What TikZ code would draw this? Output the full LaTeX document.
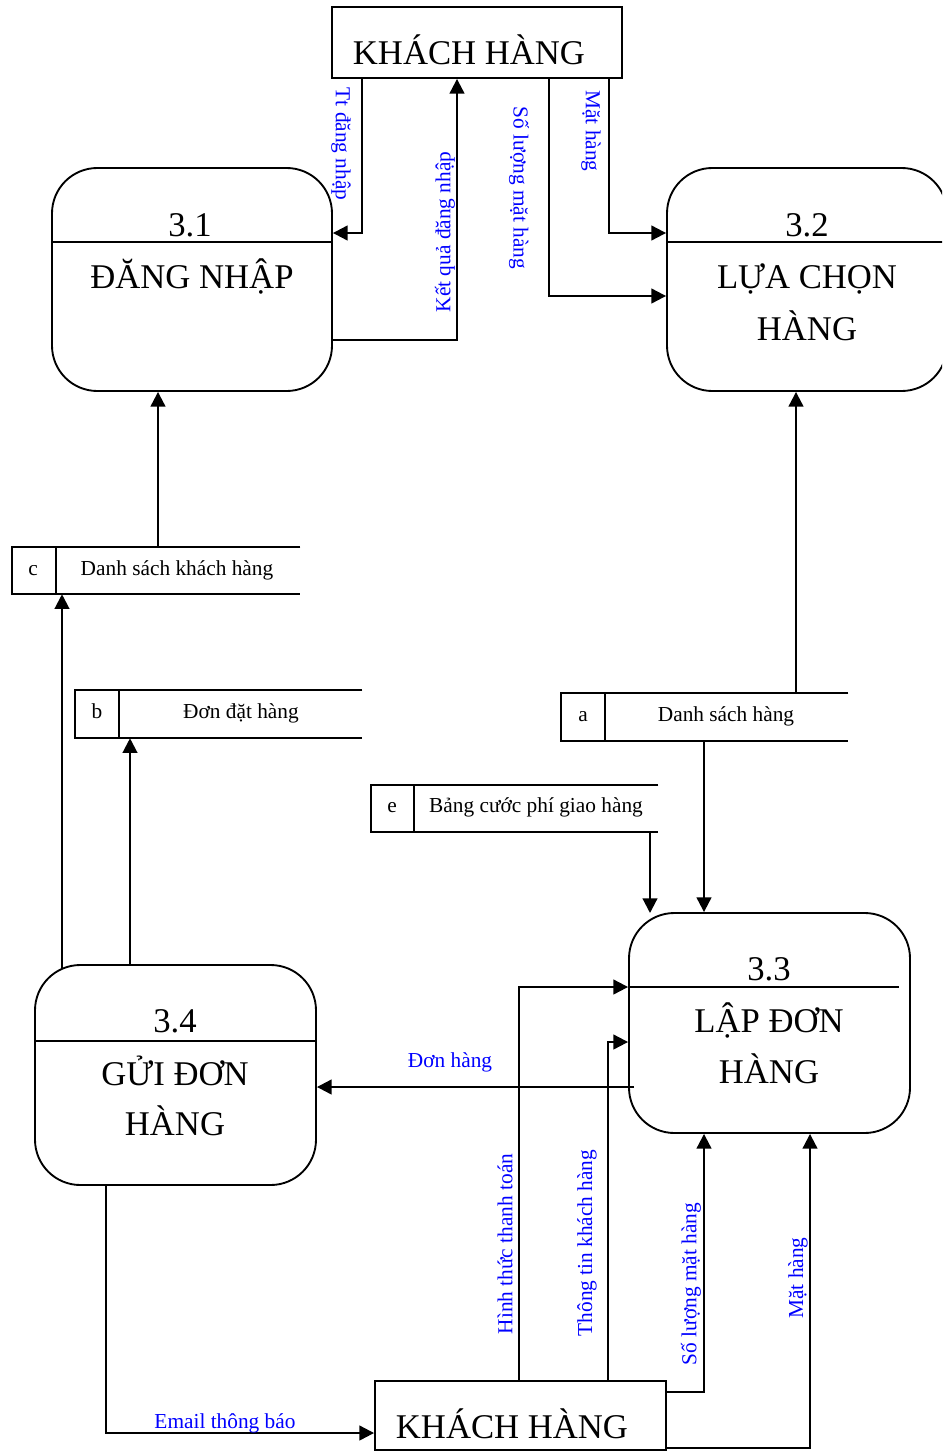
\documentclass[tikz,border=0pt]{standalone}
\usepackage{fontspec}
\setmainfont{Liberation Serif}
\usetikzlibrary{arrows.meta,fit}
\newcommand\bigtxt{\fontsize{26pt}{30pt}\selectfont}
\newcommand\lbltxt{\fontsize{16pt}{19pt}\selectfont}
\begin{document}
\begin{tikzpicture}[x=0.75pt,y=-0.75pt,
  box/.style={draw,line width=1.4pt,inner sep=0pt},
  proc/.style={draw,line width=1.4pt,rounded corners=34pt,inner sep=0pt},
  area/.style={inner sep=0pt},
  divline/.style={line width=1.1pt},
  storeline/.style={line width=1.3pt},
  flow/.style={draw,line width=1.6pt,-{Triangle[length=11pt,width=11pt]}},
  big/.style={font=\bigtxt,anchor=base,inner sep=0pt},
  small/.style={font=\lbltxt,anchor=base,inner sep=0pt},
  lbl/.style={font=\lbltxt,text=blue,inner sep=0pt}]
\clip (0,0) rectangle (942,1452);

% external entity (top and bottom)
\node[box,fit={(332,7)(622,78)}] (kh1) {};
\node[big] at (469,65) {KHÁCH HÀNG};
\node[box,fit={(375,1381)(666,1450)}] (kh2) {};
\node[big] at (512,1438) {KHÁCH HÀNG};

% processes
\node[proc,fit={(52,168)(332,391)}] (p31) {};
\draw[divline] (p31.west |- 0,242) -- (p31.east |- 0,242);
\node[big] at (190,236) {3.1};
\node[big] at (192,288) {ĐĂNG NHẬP};

\node[proc,fit={(667,168)(947,391)}] (p32) {};
\draw[divline] (p32.west |- 0,242) -- (p32.east |- 0,242);
\node[big] at (807,236) {3.2};
\node[big] at (807,288) {LỰA CHỌN};
\node[big] at (807,340) {HÀNG};

\node[proc,fit={(629,913)(910,1133)}] (p33) {};
\draw[divline] (p33.west |- 0,987) -- (899,987);
\node[big] at (769,980) {3.3};
\node[big] at (769,1032) {LẬP ĐƠN};
\node[big] at (769,1083) {HÀNG};

\node[proc,fit={(35,965)(316,1185)}] (p34) {};
\draw[divline] (p34.west |- 0,1041) -- (p34.east |- 0,1041);
\node[big] at (175,1032) {3.4};
\node[big] at (175,1085) {GỬI ĐƠN};
\node[big] at (175,1135) {HÀNG};

% data stores
\node[area,fit={(12,547)(300,594)}] (sc) {};
\draw[storeline] (sc.north east) -- (sc.north west) -- (sc.south west) -- (sc.south east);
\draw[storeline] (56,0 |- sc.north) -- (56,0 |- sc.south);
\node[small] at (33,575) {c};
\node[small] at (177,575) {Danh sách khách hàng};

\node[area,fit={(75,690)(362,738)}] (sb) {};
\draw[storeline] (sb.north east) -- (sb.north west) -- (sb.south west) -- (sb.south east);
\draw[storeline] (119,0 |- sb.north) -- (119,0 |- sb.south);
\node[small] at (97,718) {b};
\node[small] at (241,718) {Đơn đặt hàng};

\node[area,fit={(561,693)(848,741)}] (sa) {};
\draw[storeline] (sa.north east) -- (sa.north west) -- (sa.south west) -- (sa.south east);
\draw[storeline] (605,0 |- sa.north) -- (605,0 |- sa.south);
\node[small] at (583,721) {a};
\node[small] at (726,721) {Danh sách hàng};

\node[area,fit={(371,785)(658,832)}] (se) {};
\draw[storeline] (se.north east) -- (se.north west) -- (se.south west) -- (se.south east);
\draw[storeline] (414,0 |- se.north) -- (414,0 |- se.south);
\node[small] at (392,812) {e};
\node[small] at (536,812) {Bảng cước phí giao hàng};

% flows around the top entity
\draw[flow] (362,0 |- kh1.south) |- (p31.east |- 0,233);
\node[lbl,rotate=-90] at (341,144) {Tt đăng nhập};
\draw[flow] (p31.east |- 0,340) -| (457,0 |- kh1.south);
\node[lbl,rotate=90] at (445,232) {Kết quả đăng nhập};
\draw[flow] (549,0 |- kh1.south) |- (p32.west |- 0,296);
\node[lbl,rotate=-90] at (519,188) {Số lượng mặt hàng};
\draw[flow] (609,0 |- kh1.south) |- (p32.west |- 0,233);
\node[lbl,rotate=-90] at (591,131) {Mặt hàng};

% flows between stores and processes
\draw[flow] (158,0 |- sc.north) -- (158,0 |- p31.south);
\draw[flow] (796,0 |- sa.north) -- (796,0 |- p32.south);
\draw[flow] (62,968) -- (62,0 |- sc.south);
\draw[flow] (130,0 |- p34.north) -- (130,0 |- sb.south);
\draw[flow] (704,0 |- sa.south) -- (704,0 |- p33.north);
\draw[flow] (650,0 |- se.south) -- (650,913);

% order flow
\draw[flow] (634,1087) -- (p34.east |- 0,1087);
\node[small,text=blue] at (450,1067) {Đơn hàng};

% flows around the bottom entity
\draw[flow] (519,0 |- kh2.north) |- (p33.west |- 0,987);
\node[lbl,rotate=90] at (505,1244) {Hình thức thanh toán};
\draw[flow] (608,0 |- kh2.north) |- (p33.west |- 0,1042);
\node[lbl,rotate=90] at (587,1243) {Thông tin khách hàng};
\draw[flow] (kh2.east |- 0,1392) -| (704,0 |- p33.south);
\node[lbl,rotate=90] at (691,1284) {Số lượng mặt hàng};
\draw[flow] (kh2.east |- 0,1448) -| (810,0 |- p33.south);
\node[lbl,rotate=90] at (798,1278) {Mặt hàng};
\draw[flow] (106,0 |- p34.south) |- (kh2.west |- 0,1433);
\node[small,text=blue] at (225,1428) {Email thông báo};
\end{tikzpicture}
\end{document}
